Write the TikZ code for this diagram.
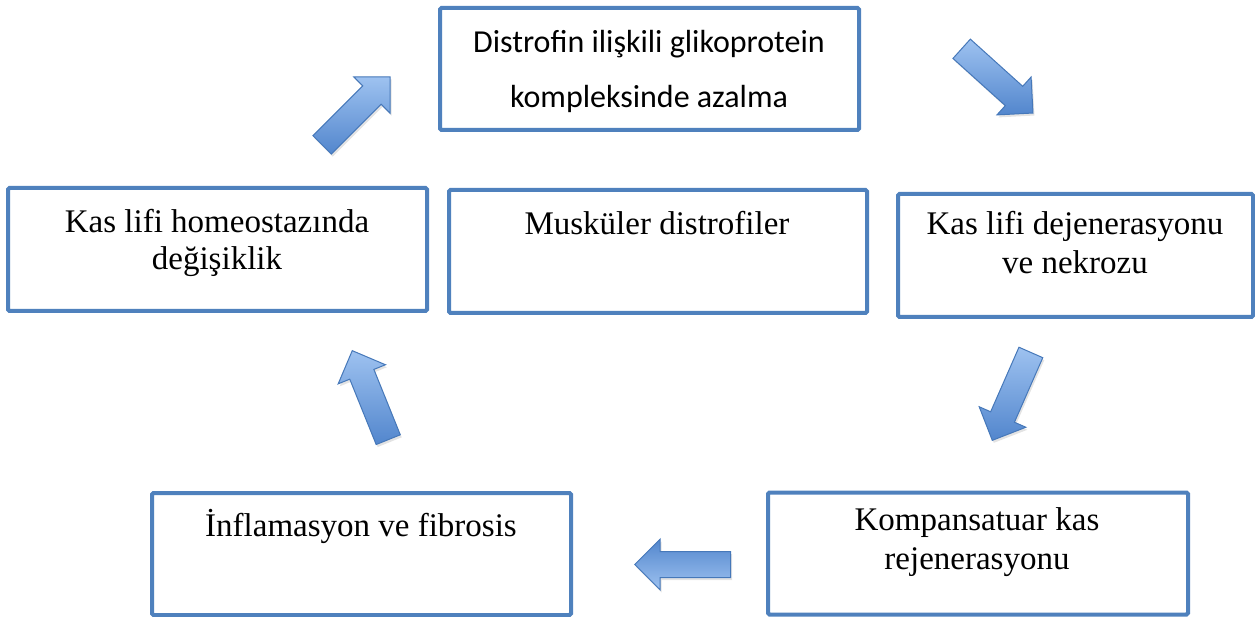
\documentclass[tikz,border=0pt]{standalone}
\usepackage{fontspec}
\setmainfont{Liberation Serif}
\newfontfamily\calib{Carlito}
\usetikzlibrary{shapes.arrows,shadows}
\definecolor{boxblue}{RGB}{79,129,189}
\definecolor{arrlight}{RGB}{158,194,240}
\definecolor{arrdark}{RGB}{82,134,205}
\definecolor{arredge}{RGB}{70,120,185}
\begin{document}
\begin{tikzpicture}[x=1pt,y=-1pt,
  box/.style={draw=boxblue,line width=4pt,rounded corners=1.5pt,fill=white,inner sep=0pt},
  lbl/.style={anchor=base,inner sep=0pt,font=\fontsize{33}{38}\selectfont},
  lblsans/.style={anchor=base,inner sep=0pt,font=\calib\fontsize{32}{38}\selectfont},
  blockarrow/.style={single arrow,draw=arredge,line width=1pt,inner xsep=0pt,inner ysep=12.5pt,
    minimum height=96pt,single arrow head extend=12.5pt,
    single arrow head indent=0pt,anchor=tip,
    drop shadow={opacity=0.22,shadow xshift=1.5pt,shadow yshift=-2.5pt}},
  lighttop/.style={top color=arrlight,bottom color=arrdark},
  lightbottom/.style={top color=arrdark,bottom color=arrlight}]
\useasboundingbox (0,0) rectangle (1255,617);

% boxes
\node[box,minimum width=419pt,minimum height=122pt] (top) at (649.5,69) {};
\node[box,minimum width=419pt,minimum height=123pt] (left) at (217.5,249.5) {};
\node[box,minimum width=418pt,minimum height=123pt] (center) at (658,251.5) {};
\node[box,minimum width=355pt,minimum height=123pt] (right) at (1075.5,255.5) {};
\node[box,minimum width=419pt,minimum height=122pt] (botleft) at (361.5,554) {};
\node[box,minimum width=420pt,minimum height=122pt] (botright) at (978,553.5) {};

% texts
\node[lblsans] (t1a) at (649,53) {Distrofin ilişkili glikoprotein};
\node[lblsans] (t1b) at (649,108) {kompleksinde azalma};
\node[lbl] (t2a) at (217,233) {Kas lifi homeostazında};
\node[lbl] (t2b) at (217,270) {değişiklik};
\node[lbl] (t3a) at (657,235) {Musküler distrofiler};
\node[lbl] (t4a) at (1075,235) {Kas lifi dejenerasyonu};
\node[lbl] (t4b) at (1075,274) {ve nekrozu};
\node[lbl] (t5a) at (361,536) {İnflamasyon ve fibrosis};
\node[lbl] (t6a) at (977,530) {Kompansatuar kas};
\node[lbl] (t6b) at (977,569) {rejenerasyonu};

% block arrows (placed by their tips)
\node[blockarrow,lighttop,rotate=45] (a1) at (390.5,76.5) {};
\node[blockarrow,lighttop,rotate=-42] (a2) at (1033.5,113.5) {};
\node[blockarrow,lighttop,rotate=-113.7] (a3) at (992,441) {};
\node[blockarrow,lightbottom,rotate=180] (a4) at (634,564.5) {};
\node[blockarrow,lighttop,rotate=112] (a5) at (352,350) {};
\end{tikzpicture}
\end{document}
